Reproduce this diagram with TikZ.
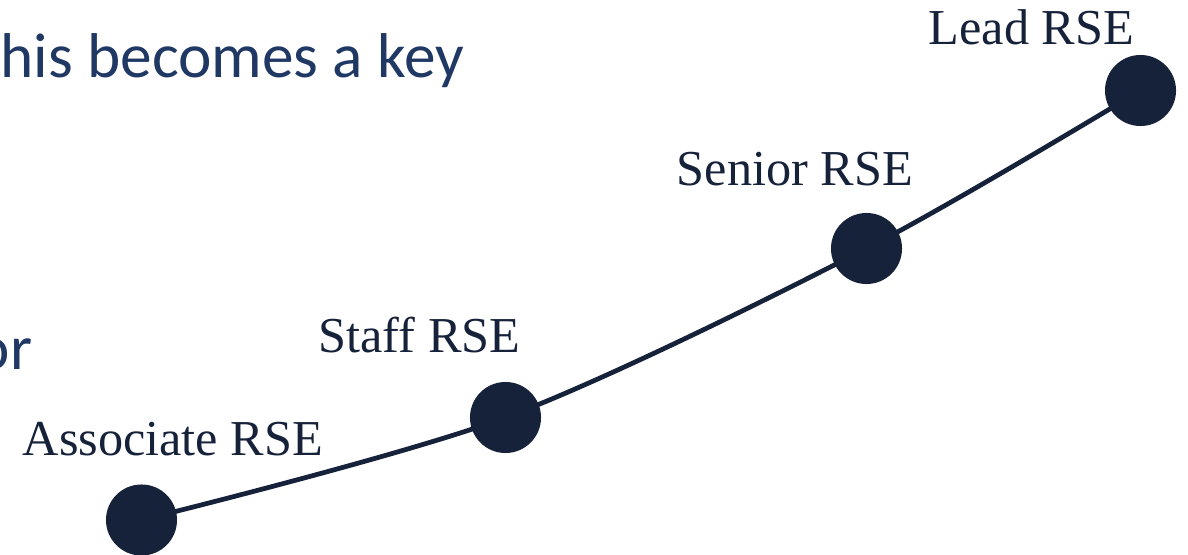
\documentclass[tikz,border=0pt]{standalone}
\usepackage{fontspec}
\setmainfont{Liberation Serif}
\newfontfamily\slidefont{Carlito}
\usepackage{tikz}
\usetikzlibrary{positioning}
\usepackage{xcolor}
\definecolor{rsenavy}{HTML}{16213A}
\definecolor{slideblue}{HTML}{1F3864}

\tikzset{
	stage/.style={circle, fill=rsenavy, inner sep=0pt, minimum size=7.1mm},
	stagelabel/.style={anchor=base west, inner sep=0pt, text=rsenavy, font=\fontsize{14.3pt}{17pt}\selectfont},
	slidetext/.style={anchor=base west, inner sep=0pt, text=slideblue, font=\slidefont\fontsize{18pt}{22pt}\selectfont}
}

\begin{document}
\begin{tikzpicture}[x=0.01cm, y=0.01cm]
	\useasboundingbox (0, 0) rectangle (1188, 554);
	% text of the slide behind
	\node[slidetext] (key) at (0, 476) {his becomes a key};
	\node[slidetext] (or) at (-24, 185) {or};
	% career stages
	\coordinate (assoc) at (141.5, 34);
	\coordinate (staff) at (505.5, 136.5);
	\coordinate (senior) at (866.5, 305.5);
	\coordinate (lead) at (1140.5, 463.5);
	\draw[rsenavy, line width=1.35pt] plot[smooth] coordinates {(assoc) (staff) (senior) (lead)};
	\node[stage] (assocdot) at (assoc) {};
	\node[stage] (staffdot) at (staff) {};
	\node[stage] (seniordot) at (senior) {};
	\node[stage] (leaddot) at (lead) {};
	\node[stagelabel] (assoclabel) at (22, 99) {Associate RSE};
	\node[stagelabel] (stafflabel) at (318, 202) {Staff RSE};
	\node[stagelabel] (seniorlabel) at (676, 369) {Senior RSE};
	\node[stagelabel] (leadlabel) at (928, 509) {Lead RSE};
\end{tikzpicture}
\end{document}
